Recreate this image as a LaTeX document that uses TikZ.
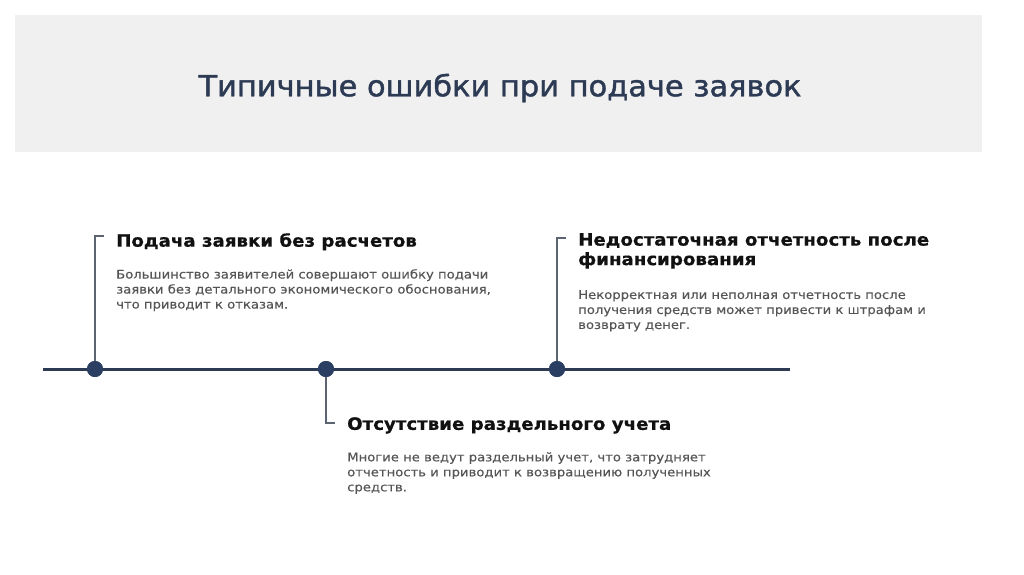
\documentclass[tikz,border=0pt]{standalone}
\usepackage{fontspec}
\setmainfont{DejaVu Sans}
\newfontfamily\titlefont{DejaVu Sans}[FakeBold=1.4,FakeStretch=1.05]
\newfontfamily\headfont{DejaVu Sans Bold}[FakeStretch=1.07,FakeBold=0.6]
\newfontfamily\bodyfont{DejaVu Sans}[FakeStretch=1.1,FakeBold=0.2]
\definecolor{band}{HTML}{F0F0F0}
\definecolor{navy}{HTML}{2C3A54}
\definecolor{dotc}{HTML}{2B3F63}
\definecolor{brk}{HTML}{5C6472}
\definecolor{bodyc}{HTML}{555555}
\definecolor{headc}{HTML}{111111}
\tikzset{
  head/.style={anchor=north west, inner sep=0pt, align=left, text=headc,
    font=\headfont\fontsize{17}{19.5}\selectfont},
  body/.style={anchor=north west, inner sep=0pt, align=left, text=bodyc,
    font=\bodyfont\fontsize{12}{15}\selectfont},
  dot/.style={circle, fill=dotc, minimum size=16pt, inner sep=0pt},
  bracket/.style={draw=brk, line width=1.6pt},
  axis/.style={draw=navy, line width=3pt}
}
\begin{document}
\begin{tikzpicture}[x=1pt,y=-1pt]
\useasboundingbox (0,0) rectangle (1024,574);
\fill[white] (0,0) rectangle (1024,574);
\fill[band] (15,15) rectangle (982,152);
\node[text=navy, font=\titlefont\fontsize{29}{33}\selectfont] (title) at (500,88) {Типичные ошибки при подаче заявок};

\coordinate (L) at (43,369);
\coordinate (R) at (790,369);
\draw[axis] (L) -- (R);

\coordinate (c1) at (95,236);
\coordinate (e1) at (104,236);
\coordinate (c2) at (326,423);
\coordinate (e2) at (335,423);
\coordinate (c3) at (557,238);
\coordinate (e3) at (566,238);

\node[dot] (d1) at (95,369) {};
\node[dot] (d2) at (326,369) {};
\node[dot] (d3) at (557,369) {};

\draw[bracket] (d1.center) -- (c1) -- (e1);
\draw[bracket] (d2.center) -- (c2) -- (e2);
\draw[bracket] (d3.center) -- (c3) -- (e3);
\node[dot] at (d1) {};
\node[dot] at (d2) {};
\node[dot] at (d3) {};

\node[head] (h1) at (116,233) {Подача заявки без расчетов};
\node[body] (b1) at (116,269) {Большинство заявителей совершают ошибку подачи\\заявки без детального экономического обоснования,\\что приводит к отказам.};

\node[head] (h3) at (578,233) {Недостаточная отчетность после\\финансирования};
\node[body] (b3) at (578,290) {Некорректная или неполная отчетность после\\получения средств может привести к штрафам и\\возврату денег.};

\node[head] (h2) at (347,417) {Отсутствие раздельного учета};
\node[body] (b2) at (347,452) {Многие не ведут раздельный учет, что затрудняет\\отчетность и приводит к возвращению полученных\\средств.};
\end{tikzpicture}
\end{document}
